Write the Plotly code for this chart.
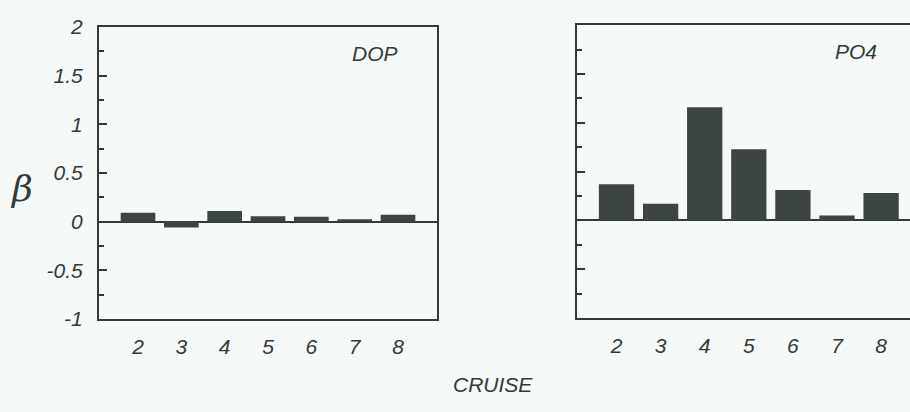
import plotly.graph_objects as go

# Cruise numbers and regression coefficients (beta) for each nutrient
cruises = [2, 3, 4, 5, 6, 7, 8]
beta_dop = [0.09, -0.06, 0.11, 0.055, 0.05, 0.025, 0.07]
beta_po4 = [0.37, 0.17, 1.16, 0.73, 0.31, 0.05, 0.28]

y_ticks = [-1, -0.5, 0, 0.5, 1, 1.5, 2]
y_tick_text = ["-1", "-0.5", "0", "0.5", "1", "1.5", "2"]

W, H = 910, 412
INK = "#343a39"
BAR = "#3c4543"
BG = "#f5f9f7"
FONT = "Liberation Sans, Arial, sans-serif"


def px_x(v):
    return v / W


def px_y(v):
    return 1 - v / H


fig = go.Figure()
fig.add_trace(go.Bar(x=cruises, y=beta_dop, width=0.8, marker_color=BAR,
                     marker_line_width=0, xaxis="x", yaxis="y", showlegend=False))
fig.add_trace(go.Bar(x=cruises, y=beta_po4, width=0.8, marker_color=BAR,
                     marker_line_width=0, xaxis="x2", yaxis="y2", showlegend=False))

tick_font = dict(family=FONT, size=21, color=INK, style="italic")

common_x = dict(
    tickvals=cruises, ticks="", showgrid=False, zeroline=False,
    showline=True, linecolor=INK, linewidth=2, mirror=True,
    tickfont=tick_font, ticklabelstandoff=8, fixedrange=True,
)
common_y = dict(
    range=[-1, 2], tickvals=y_ticks, ticktext=y_tick_text,
    ticks="inside", ticklen=8, tickwidth=2, tickcolor=INK,
    minor=dict(tick0=0, dtick=0.25, ticks="inside", ticklen=5,
               tickwidth=2, tickcolor=INK, showgrid=False),
    showgrid=False, zeroline=True, zerolinecolor=INK, zerolinewidth=2,
    showline=True, linecolor=INK, linewidth=2,
    tickfont=tick_font, ticklabelstandoff=10, fixedrange=True,
)

fig.update_layout(
    width=W, height=H,
    margin=dict(l=0, r=0, t=0, b=0),
    paper_bgcolor=BG, plot_bgcolor=BG,
    bargap=0.2,
    xaxis=dict(common_x, domain=[px_x(99), px_x(437)], range=[1.1, 8.9],
               anchor="y"),
    yaxis=dict(common_y, domain=[px_y(325), px_y(16)], mirror=True,
               anchor="x"),
    xaxis2=dict(common_x, domain=[px_x(577), 1.0], range=[1.104, 8.655],
                anchor="y2"),
    yaxis2=dict(common_y, domain=[px_y(324), px_y(14)], mirror=False,
                showticklabels=False, anchor="x2"),
    annotations=[
        dict(text="DOP", x=px_x(375), y=px_y(43.5), xref="paper", yref="paper",
             showarrow=False, xanchor="center", yanchor="middle",
             font=dict(family=FONT, size=21, color=INK, style="italic")),
        dict(text="PO4", x=px_x(856), y=px_y(42), xref="paper", yref="paper",
             showarrow=False, xanchor="center", yanchor="middle",
             font=dict(family=FONT, size=21, color=INK, style="italic")),
        dict(text="CRUISE", x=px_x(493), y=px_y(395), xref="paper", yref="paper",
             showarrow=False, xanchor="center", yanchor="middle",
             font=dict(family=FONT, size=21, color=INK, style="italic")),
        dict(text="β", x=px_x(21), y=px_y(187), xref="paper", yref="paper",
             showarrow=False, xanchor="center", yanchor="middle",
             font=dict(family="DejaVu Serif, serif", size=36, color=INK,
                       style="italic")),
    ],
)

fig.write_html("out.html")
